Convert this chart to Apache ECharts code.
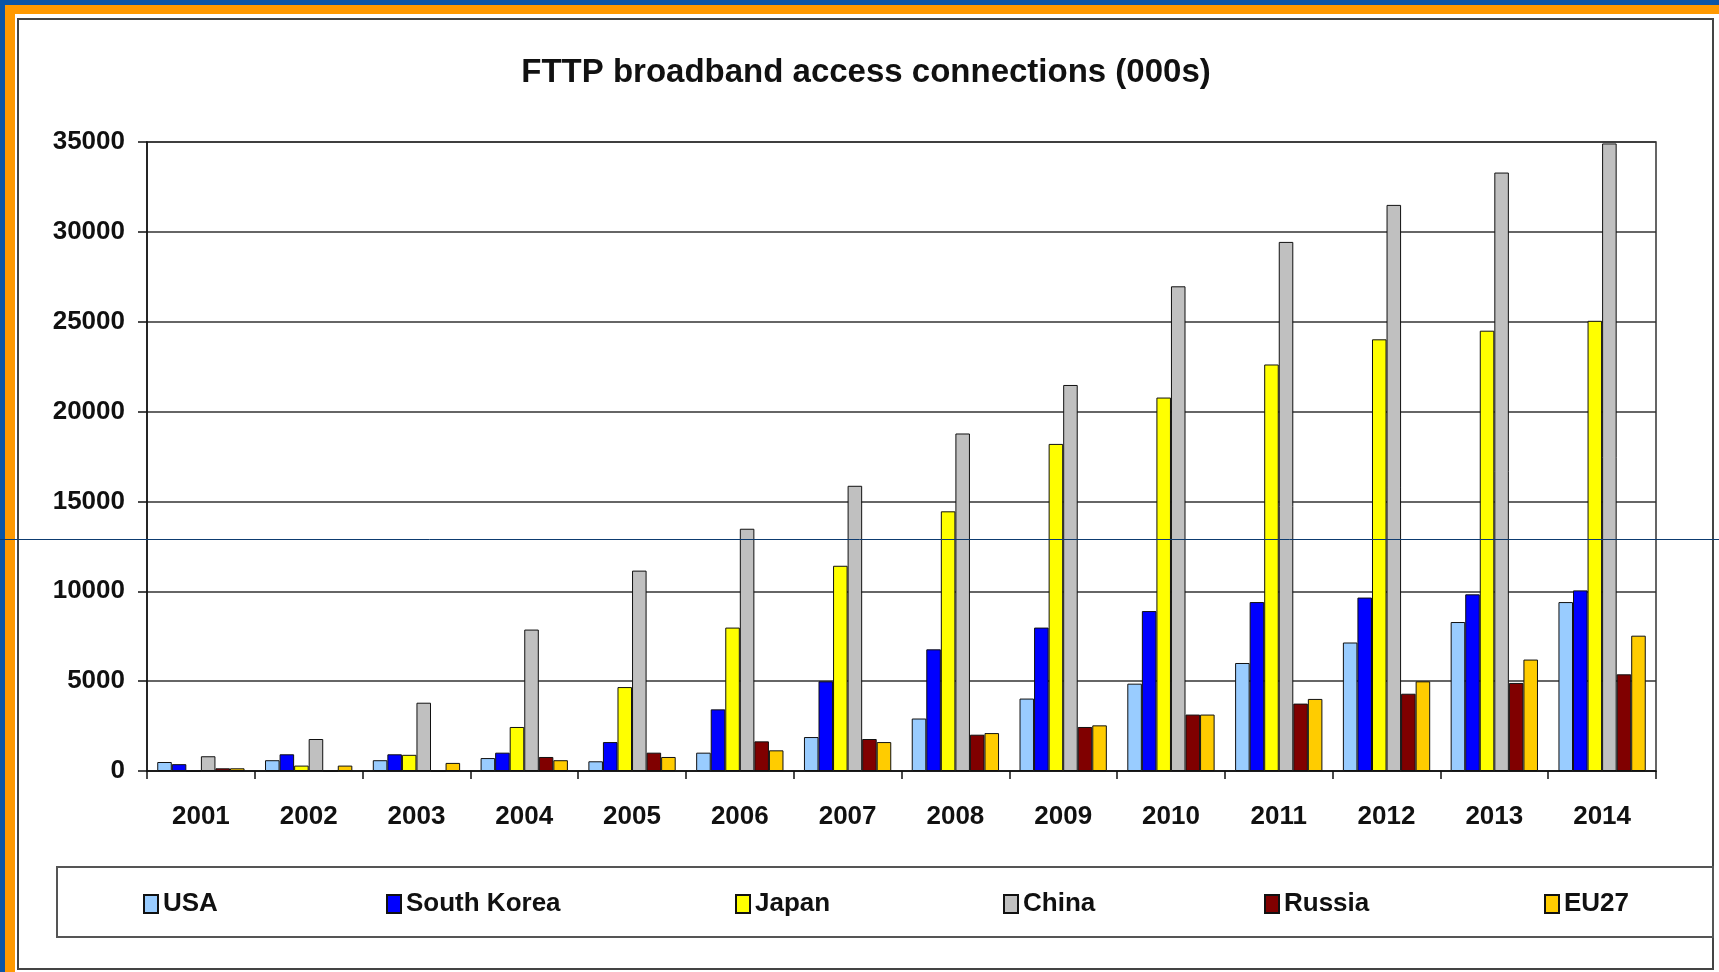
<!DOCTYPE html>
<html>
<head>
<meta charset="utf-8">
<script src="https://cdn.jsdelivr.net/npm/echarts@6/dist/echarts.min.js"></script>
<style>
  html, body { margin: 0; padding: 0; }
  #chart { width: 1719px; height: 972px; }
</style>
</head>
<body>
<div id="chart"></div>
<script>
var years = ['2001','2002','2003','2004','2005','2006','2007','2008','2009','2010','2011','2012','2013','2014']
var usa = [500, 600, 600, 720, 540, 1020, 1890, 2920, 4030, 4860, 6010, 7150, 8290, 9400]
var southKorea = [380, 930, 930, 1020, 1610, 3430, 4990, 6770, 7980, 8900, 9400, 9650, 9830, 10050]
var japan = [0, 300, 900, 2450, 4670, 7980, 11420, 14450, 18200, 20780, 22620, 24020, 24500, 25050]
var china = [820, 1780, 3800, 7870, 11150, 13480, 15870, 18780, 21480, 26970, 29440, 31500, 33300, 34920]
var russia = [150, 0, 0, 780, 1020, 1650, 1780, 2020, 2450, 3140, 3750, 4300, 4900, 5380]
var eu27 = [150, 300, 450, 600, 780, 1150, 1610, 2110, 2540, 3140, 4010, 4990, 6200, 7530]
var yTicks = [0, 5000, 10000, 15000, 20000, 25000, 30000, 35000]

var names = ['USA', 'South Korea', 'Japan', 'China', 'Russia', 'EU27']
var colors = ['#99ccff', '#0000ff', '#ffff00', '#c0c0c0', '#800000', '#ffcc00']
var values = [usa, southKorea, japan, china, russia, eu27]
var legendX = [143, 386, 735, 1003, 1264, 1544]

var font = '"Liberation Sans", Arial, sans-serif'

var myChart = echarts.init(document.getElementById('chart'))

var series = names.map(function (n, i) {
  return {
    name: n,
    type: 'bar',
    data: values[i],
    barGap: '0%',
    barCategoryGap: '19%',
    itemStyle: { color: colors[i], borderColor: '#111', borderWidth: 1 }
  }
})

var legends = names.map(function (n, i) {
  return {
    data: [n],
    left: legendX[i],
    top: 891,
    padding: 0,
    itemWidth: 14,
    itemHeight: 18,
    icon: 'rect',
    textStyle: { fontFamily: font, fontSize: 26, fontWeight: 'bold', color: '#111' },
    selectedMode: false
  }
})

myChart.setOption({
  backgroundColor: '#0a55a8',
  animation: false,
  title: {
    text: 'FTTP broadband access connections (000s)',
    left: 866,
    textAlign: 'center',
    top: 56,
    padding: 0,
    textStyle: { fontFamily: font, fontSize: 33, fontWeight: 'bold', color: '#111' }
  },
  legend: legends,
  graphic: [
    { type: 'rect', z: -20, shape: { x: 5, y: 5, width: 1714, height: 967 }, style: { fill: '#ff9900' } },
    { type: 'rect', z: -19, shape: { x: 15, y: 14, width: 1704, height: 958 }, style: { fill: '#ffffff' } },
    { type: 'rect', z: -18, shape: { x: 18, y: 19, width: 1695, height: 950 }, style: { fill: '#ffffff', stroke: '#444', lineWidth: 2 } },
    { type: 'rect', z: -17, shape: { x: 57, y: 867, width: 1656, height: 70 }, style: { fill: '#ffffff', stroke: '#555', lineWidth: 2 } },
    { type: 'line', z: 100, shape: { x1: 0, y1: 539.5, x2: 1719, y2: 539.5 }, style: { stroke: '#0d3b70', lineWidth: 1 } }
  ],
  grid: {
    left: 147,
    right: 63,
    top: 142,
    bottom: 201,
    show: true,
    borderColor: '#333',
    borderWidth: 1.5
  },
  xAxis: {
    type: 'category',
    data: years,
    axisLine: { lineStyle: { color: '#111', width: 1.5 } },
    axisTick: { show: true, interval: 0, length: 8, lineStyle: { color: '#111', width: 1.5 } },
    axisLabel: { interval: 0, margin: 33, fontFamily: font, fontSize: 26, fontWeight: 'bold', color: '#111' }
  },
  yAxis: {
    type: 'value',
    min: yTicks[0],
    max: yTicks[yTicks.length - 1],
    interval: 5000,
    axisLine: { show: true, lineStyle: { color: '#111', width: 1.5 } },
    axisTick: { show: true, length: 9, lineStyle: { color: '#111', width: 1.5 } },
    axisLabel: { margin: 22, fontFamily: font, fontSize: 26, fontWeight: 'bold', color: '#111', formatter: function (v) { return String(v) } },
    splitLine: { show: true, lineStyle: { color: '#333', width: 1.5 } }
  },
  series: series
})
</script>
</body>
</html>
